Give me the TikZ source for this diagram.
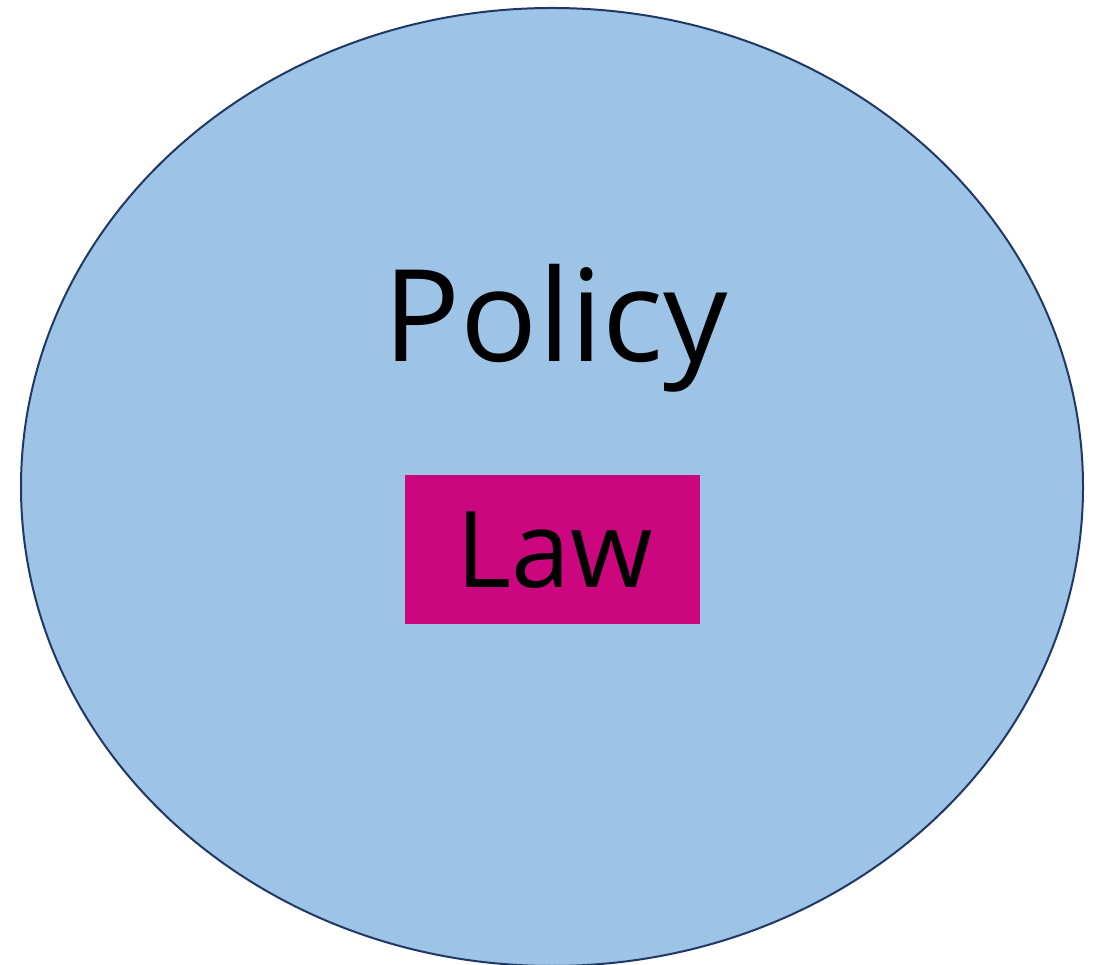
\documentclass[tikz,border=0pt]{standalone}
\usepackage{fontspec}
\setmainfont{Open Sans}
\usetikzlibrary{shapes.geometric}
\definecolor{ellfill}{HTML}{9DC3E6}
\definecolor{elldraw}{HTML}{203864}
\definecolor{lawfill}{HTML}{CC067F}
\tikzset{
  bigtext/.style={font=\fontsize{128}{128}\selectfont, inner sep=0pt, anchor=base},
  lawtext/.style={font=\fontsize{106}{106}\selectfont, inner sep=0pt, anchor=base},
}
\begin{document}
\begin{tikzpicture}[x=1pt,y=1pt]
\useasboundingbox (0,0) rectangle (1102,964);
\begin{scope}
\clip (0,0) rectangle (1102,964);
\node[ellipse, draw=elldraw, fill=ellfill, line width=2pt, minimum width=1062pt, minimum height=958pt, inner sep=0pt] (policyell) at (552,477) {};
\end{scope}
\node[bigtext] (policy) at (556,602) {Policy};
\node[rectangle, fill=lawfill, minimum width=295pt, minimum height=149pt, inner sep=0pt] (lawbox) at (552.5,414.5) {};
\node[lawtext] (law) at (555,376) {Law};
\end{tikzpicture}
\end{document}
